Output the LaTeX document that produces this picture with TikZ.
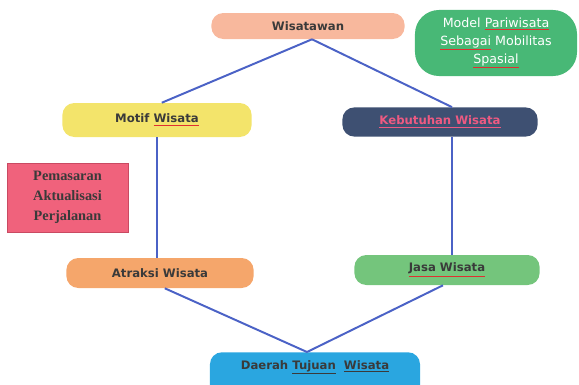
\documentclass[tikz,border=0pt]{standalone}
\usepackage{fontspec}
\newfontfamily\labelfont{DejaVu Sans}
\newfontfamily\pemfont{Liberation Serif}
\definecolor{wisfill}{HTML}{F8B89D}
\definecolor{modelfill}{HTML}{48B876}
\definecolor{motiffill}{HTML}{F3E46B}
\definecolor{kebfill}{HTML}{3E5072}
\definecolor{kebtext}{HTML}{EE5A82}
\definecolor{pemfill}{HTML}{F0627C}
\definecolor{pemedge}{HTML}{C94A62}
\definecolor{atrfill}{HTML}{F5A66B}
\definecolor{jasafill}{HTML}{74C57C}
\definecolor{daerahfill}{HTML}{2AA6E0}
\definecolor{linkblue}{HTML}{4B62C6}
\definecolor{darktext}{HTML}{3A3A3A}
\definecolor{spellred}{HTML}{E03030}
\newcommand\spellmark[2][darktext]{\textcolor{spellred}{\underline{\textcolor{#1}{#2}}}}

\begin{document}
\begin{tikzpicture}[x=0.025cm,y=-0.025cm,
  pill/.style={rounded corners=8.5pt,inner sep=0pt,text=darktext,
    font=\labelfont\bfseries\fontsize{8.3}{10}\selectfont},
  link/.style={draw=linkblue,line width=1.4pt}]
\useasboundingbox (0,0) rectangle (579,384);
% boxes
\node [pill, fill=wisfill, minimum width=4.83cm, minimum height=0.65cm] (wis) at (308,26) {Wisatawan};
\node [rounded corners=0.6cm, fill=modelfill, minimum width=4.05cm, minimum height=1.65cm, inner sep=0pt,
  text=white, align=center, font=\labelfont\fontsize{9}{12.8}\selectfont] (model) at (496,43)
  {Model \spellmark[white]{Pariwisata}\\\spellmark[white]{Sebagai} Mobilitas\\\spellmark[white]{Spasial}};
\node [pill, fill=motiffill, minimum width=4.73cm, minimum height=0.85cm] (motif) at (157,120) {Motif \spellmark{Wisata}};
\node [pill, fill=kebfill, text=kebtext, minimum width=4.88cm, minimum height=0.73cm] (keb) at (440,122) {\underline{Kebutuhan Wisata}};
\node [fill=pemfill, draw=pemedge, minimum width=3.03cm, minimum height=1.73cm, inner sep=0pt, text=darktext,
  align=center, font=\pemfont\bfseries\fontsize{10.2}{14.2}\selectfont] (pem) at (67.5,197.5)
  {Pemasaran\\Aktualisasi\\Perjalanan};
\node [pill, fill=atrfill, minimum width=4.68cm, minimum height=0.75cm] (atr) at (160,273) {Atraksi Wisata};
\node [pill, fill=jasafill, minimum width=4.63cm, minimum height=0.75cm] (jasa) at (447,270) {\spellmark{Jasa Wisata}};
\node [pill, fill=daerahfill, anchor=north, minimum width=5.25cm, text height=2.2mm, text depth=8mm, inner ysep=2mm]
  (daerah) at (315,352) {Daerah \underline{Tujuan}\ \ \underline{Wisata}};
% connectors
\draw [link] ([xshift=0.1cm]wis.south) -- ([xshift=0.12cm]motif.north);
\draw [link] ([xshift=0.1cm]wis.south) -- ([xshift=0.3cm]keb.north);
\draw [link] (motif.south) -- (motif.south |- atr.north);
\draw [link] ([xshift=0.3cm]keb.south) -- ([xshift=0.3cm]keb.south |- jasa.north);
\draw [link] ([xshift=0.12cm]atr.south) -- ([xshift=-0.2cm]daerah.north);
\draw [link] ([xshift=-0.1cm]jasa.south) -- ([xshift=-0.2cm]daerah.north);
\end{tikzpicture}
\end{document}
